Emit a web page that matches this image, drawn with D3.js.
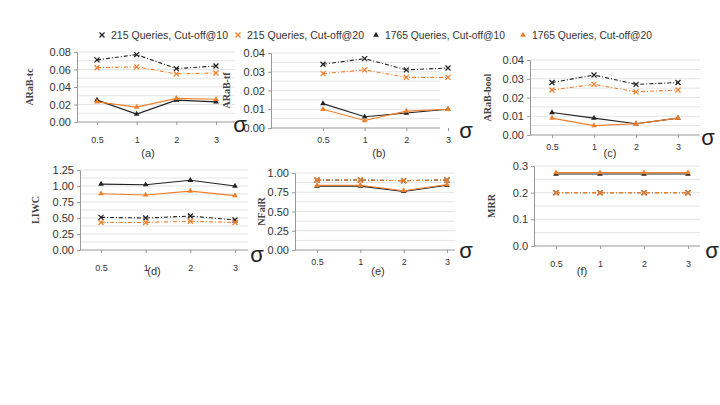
<!DOCTYPE html><html><head><meta charset="utf-8"><script src="https://cdn.jsdelivr.net/npm/d3@7"></script>
<style>body{margin:0;background:#fff}text{font-family:"Liberation Sans",Arial,sans-serif}</style></head><body><svg width="720" height="405"></svg>
<script>
const sigmas=["0.5","1","2","3"];
const seriesNames=["215 Queries, Cut-off@10","215 Queries, Cut-off@20","1765 Queries, Cut-off@10","1765 Queries, Cut-off@20"];
const panelNames=["ARaB-tc","ARaB-tf","ARaB-bool","LIWC","NFaiR","MRR"];
const panelLetters=["(a)","(b)","(c)","(d)","(e)","(f)"];
const yTicks=[[0,0.02,0.04,0.06,0.08],[0,0.01,0.02,0.03,0.04],[0,0.01,0.02,0.03,0.04],[0,0.25,0.5,0.75,1,1.25],[0,0.25,0.5,0.75,1],[0,0.1,0.2,0.3]];
const q215c10=[[.071,.077,.061,.064],[.034,.037,.031,.032],[.028,.032,.027,.028],[.51,.50,.53,.47],[.91,.91,.90,.91],[.20,.20,.20,.20]];
const q215c20=[[.062,.063,.055,.056],[.029,.031,.027,.027],[.024,.027,.023,.024],[.43,.43,.45,.43],[.91,.91,.90,.91],[.20,.20,.20,.20]];
const q1765c10=[[.025,.009,.025,.023],[.013,.006,.008,.010],[.012,.009,.006,.009],[1.03,1.02,1.09,1.00],[.83,.83,.76,.84],[.27,.27,.27,.27]];
const q1765c20=[[.023,.017,.027,.026],[.010,.004,.009,.010],[.009,.005,.006,.009],[.88,.86,.92,.85],[.84,.84,.77,.85],[.275,.275,.275,.275]];
const svg=d3.select("svg");
const colors=["#222","#f07f2a","#222","#f07f2a"];
const dashed=[true,true,false,false];
// [axisX,right,top,bottom,xLeftPt,xRightPt,sigmaX,sigmaY,letterX,letterY,tickPad,ylabelOffset]
const L=[[77,235,52,122,97,216,240,132,148,157,12,44],[271,440,53,128,323,448,466,138,379,157,6,41],[530,700,60,135,552,678,708,145,610,157,6,39],
[80,248,170,250,101,235,257,262,154,275,12,41],[295,455,173,250,317,447,466,258,378,275,6,30],[534,700,166,246,556,688,712,258,582,275,12,39]];
function star(g,x,y,c){g.append("path").attr("d",`M${x-2.5},${y-2.5}L${x+2.5},${y+2.5}M${x-2.5},${y+2.5}L${x+2.5},${y-2.5}`).attr("stroke",c).attr("stroke-width",1.3);}
function tri(g,x,y,c){g.append("path").attr("d",d3.symbol(d3.symbolTriangle,14)()).attr("transform",`translate(${x},${y})`).attr("fill",c);}
panelNames.forEach((nm,i)=>{
 const [ax,r,t,b,x0,x1,sx,sy,lx,ly,tp,yo]=L[i];
 const ticks=yTicks[i];
 const y=d3.scaleLinear().domain([0,ticks[ticks.length-1]]).range([b,t]);
 const x=d3.scalePoint().domain(sigmas).range([x0,x1]);
 const g=svg.append("g");
 const step=(ticks[1]-ticks[0])/2;
 for(let v=step;v<=ticks[ticks.length-1]+1e-9;v+=step) g.append("line").attr("x1",ax).attr("x2",r).attr("y1",y(v)).attr("y2",y(v)).attr("stroke","#e4e4e4");
 g.append("g").attr("transform",`translate(${ax},0)`).call(d3.axisLeft(y).tickValues(ticks).tickFormat(d3.format(i==5?".1f":".2f")).tickSize(3)).call(a=>{a.select(".domain").attr("stroke","#999");a.selectAll("line").attr("stroke","#999");a.selectAll("text").attr("font-size",11).attr("fill","#333");});
 g.append("g").attr("transform",`translate(0,${b})`).call(d3.axisBottom(x).tickSize(3).tickPadding(tp)).call(a=>{a.select(".domain").attr("stroke","#999").attr("d",`M${ax},0H${r}`);a.selectAll("line").attr("stroke","#999");a.selectAll("text").attr("font-size",9).attr("fill","#333");});
 g.append("text").attr("transform",`translate(${ax-yo},${(t+b)/2}) rotate(-90)`).attr("text-anchor","middle").attr("font-weight","bold").attr("font-size",10).attr("fill","#444").style("font-family","'Liberation Serif',serif").text(nm);
 g.append("text").attr("x",sx).attr("y",sy).attr("text-anchor","middle").attr("font-size",22).attr("fill","#222").text("σ");
 g.append("text").attr("x",lx).attr("y",ly).attr("text-anchor","middle").attr("font-size",11).attr("fill","#333").text(panelLetters[i]);
 [q215c10,q215c20,q1765c10,q1765c20].forEach((s,k)=>{
  const vals=s[i];
  g.append("path").datum(vals).attr("fill","none").attr("stroke",colors[k]).attr("stroke-width",1.1).attr("stroke-dasharray",dashed[k]?"4,2,1,2":null)
   .attr("d",d3.line().x((d,j)=>x(sigmas[j])).y(d=>y(d)));
  vals.forEach((v,j)=>dashed[k]?star(g,x(sigmas[j]),y(v),colors[k]):tri(g,x(sigmas[j]),y(v),colors[k]));
 });
});
const lg=svg.append("g");
const lgx=[102,238,376,523];
seriesNames.forEach((n,k)=>{
 if(dashed[k]) star(lg,lgx[k],35,colors[k]); else tri(lg,lgx[k],35,colors[k]);
 lg.append("text").attr("x",lgx[k]+9).attr("y",39).attr("font-size",10.5).attr("textLength",k<2?117:120).attr("lengthAdjust","spacingAndGlyphs").attr("fill","#333").text(n);
});
</script></body></html>
